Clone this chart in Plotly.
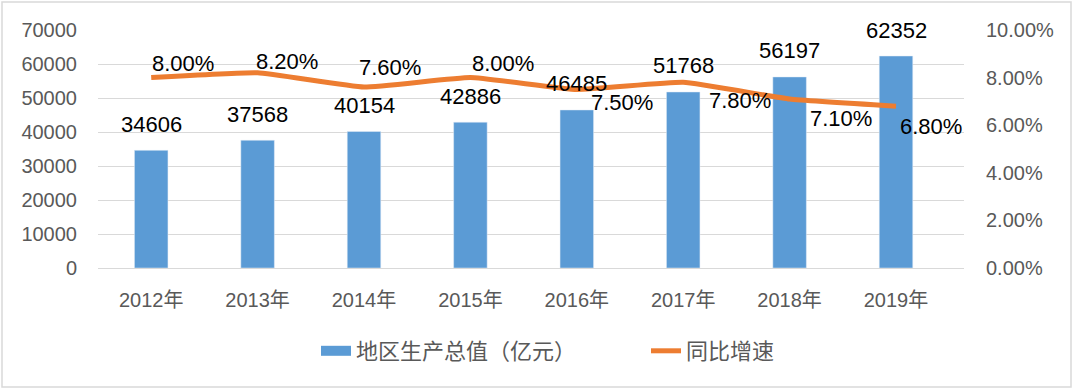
import plotly.graph_objects as go

years = ["2012年", "2013年", "2014年", "2015年", "2016年", "2017年", "2018年", "2019年"]
gdp = [34606, 37568, 40154, 42886, 46485, 51768, 56197, 62352]
growth = [0.080, 0.082, 0.076, 0.080, 0.075, 0.078, 0.071, 0.068]
left_ticks = [0, 10000, 20000, 30000, 40000, 50000, 60000, 70000]
right_ticks = [0, 0.02, 0.04, 0.06, 0.08, 0.10]

# label placement (styling): offsets in px from each line point
lab_dx = [-1, -4, -7, 0, 12, 24, 18, 2]
lab_dy = [-14, -11, -20, -14, 13, 18, 19, 20]   # positive = downward

FONT = "Liberation Sans, Noto Sans CJK SC, sans-serif"
CJK = "Noto Sans CJK SC, Liberation Sans, sans-serif"
BLUE = "#5B9BD5"
ORANGE = "#ED7D31"

fig = go.Figure()
fig.add_trace(go.Bar(
    x=years, y=gdp, name="地区生产总值（亿元）",
    marker_color=BLUE, showlegend=False,
))
# legend-only entry giving the wide rectangular swatch of the bar series
fig.add_trace(go.Scatter(
    x=[None], y=[None], mode="lines", name="地区生产总值（亿元）",
    line=dict(color=BLUE, width=13), hoverinfo="skip",
))
fig.add_trace(go.Scatter(
    x=years, y=growth, name="同比增速", yaxis="y2", mode="lines",
    line=dict(color=ORANGE, width=5, shape="spline", smoothing=0.35),
))

annotations = []
for x, v in zip(years, gdp):
    annotations.append(dict(
        x=x, y=v, xref="x", yref="y", text=str(v), showarrow=False,
        yanchor="middle", xanchor="center", yshift=26,
        font=dict(size=22, color="#000000", family=FONT),
    ))
for x, v, dx, dy in zip(years, growth, lab_dx, lab_dy):
    annotations.append(dict(
        x=x, y=v, xref="x", yref="y2", text=f"{v*100:.2f}%", showarrow=False,
        xanchor="left", yanchor="middle", xshift=dx, yshift=-dy,
        font=dict(size=22, color="#000000", family=FONT),
    ))

W, H = 1074, 390
ml, mr, mt, mb = 98, 110, 30, 122
pw, ph = W - ml - mr, H - mt - mb

fig.update_layout(
    width=W, height=H,
    margin=dict(l=ml, r=mr, t=mt, b=mb),
    paper_bgcolor="white", plot_bgcolor="white",
    bargap=0.685,
    showlegend=True,
    legend=dict(orientation="h", x=(316 - ml) / pw, xanchor="left",
                y=(H - mb - 351) / ph, yanchor="middle",
                entrywidth=285, entrywidthmode="pixels",
                font=dict(size=22, family=CJK, color="#595959")),
    xaxis=dict(showgrid=False, showline=False, ticks="",
               tickfont=dict(size=20, family=FONT, color="#595959"),
               ticklabelstandoff=18),
    yaxis=dict(range=[0, 70000], tickvals=left_ticks, ticktext=[str(t) for t in left_ticks],
               showgrid=True, gridcolor="#d9d9d9", gridwidth=1.3, zeroline=True,
               zerolinecolor="#d9d9d9", zerolinewidth=1.3, showline=False, ticks="",
               tickfont=dict(size=20, family=FONT, color="#595959"), ticklabelstandoff=20),
    yaxis2=dict(range=[0, 0.10], tickvals=right_ticks, tickformat=".2%",
                overlaying="y", side="right", showgrid=False, zeroline=False, showline=False,
                ticks="", tickfont=dict(size=20, family=FONT, color="#595959"),
                ticklabelstandoff=21),
    annotations=annotations,
    shapes=[dict(type="rect", xref="paper", yref="paper",
                 x0=(2 - ml) / pw, x1=(1071 - ml) / pw,
                 y0=(H - mb - 387) / ph, y1=(H - mb - 2) / ph,
                 line=dict(color="#d9d9d9", width=1.5), fillcolor="rgba(0,0,0,0)")],
)

fig.write_html("out.html", config={"displayModeBar": False},
               post_script="document.body.style.margin='0';")
